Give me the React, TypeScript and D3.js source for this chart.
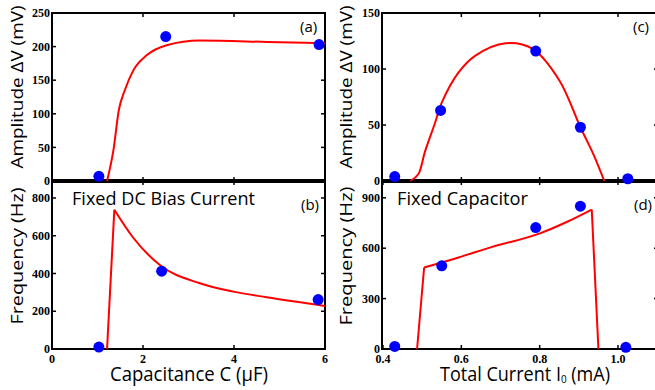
import React from 'react';
import * as d3 from 'd3';

// tick values
const capTicks = [0, 2, 4, 6];
const currTicks = [0.4, 0.6, 0.8, 1.0];
const ampATicks = [0, 50, 100, 150, 200, 250];
const freqBTicks = [0, 200, 400, 600, 800];
const ampCTicks = [0, 50, 100, 150];
const freqDTicks = [0, 300, 600, 900];

// measured points
const capA = [1.03, 2.5, 5.87];
const ampA = [7, 215, 203];
const capB = [1.03, 2.41, 5.85];
const freqB = [10, 412, 262];
const currC = [0.43, 0.547, 0.79, 0.904, 1.025];
const ampC = [4, 63, 116, 48, 2];
const currD = [0.43, 0.55, 0.79, 0.904, 1.02];
const freqD = [15, 495, 723, 850, 10];

// simulated curves
const simCapA = [1.21, 1.35, 1.47, 1.6, 1.79, 2.08, 2.52, 3.25, 4.72, 6.0];
const simAmpA = [0, 46, 106, 135, 165, 187, 202, 209, 207, 205];
const simCapB = [1.21, 1.37, 1.79, 2.37, 3.25, 3.98, 4.72, 6.0];
const simFreqB = [0, 738, 588, 445, 348, 304, 274, 228];
const simCurrC = [0.47, 0.49, 0.507, 0.533, 0.55, 0.593, 0.636, 0.713, 0.782, 0.85, 0.904, 0.937, 0.965];
const simAmpC = [0, 6, 26, 52, 70, 97, 112, 123, 118, 90, 48, 24, 0];
const simCurrD = [0.487, 0.505, 0.593, 0.679, 0.799, 0.869, 0.933, 0.95];
const simFreqD = [0, 485, 545, 608, 687, 756, 830, 0];

const W = 655;
const H = 390;
const tickFont = { fontFamily: 'Liberation Serif', fontWeight: 700, fontSize: 12 };
const sans = 'Open Sans';

const xL = d3.scaleLinear().domain([0, 6]).range([52, 325]);
const xR = d3.scaleLinear().domain([0.4, 1.0]).range([383, 618]);
const yA = d3.scaleLinear().domain([0, 250]).range([181, 13]);
const yB = d3.scaleLinear().domain([0, 890]).range([349, 181]);
const yC = d3.scaleLinear().domain([0, 150]).range([181, 13]);
const yD = d3.scaleLinear().domain([0, 1000]).range([349, 181]);

type Sc = d3.ScaleLinear<number, number>;

function path(x: Sc, y: Sc, xs: number[], ys: number[], curve: d3.CurveFactory) {
  const pts: [number, number][] = xs.map((v, i) => [v, ys[i]]);
  return d3
    .line<[number, number]>()
    .x((d) => x(d[0]))
    .y((d) => Math.min(y(d[1]), y(0)))
    .curve(curve)(pts) as string;
}

function Panel({ x, y, x0, x1, y0, y1, xTicks, yTicks, xFmt, xBottom }: any) {
  const t = 4;
  return (
    <g>
      <rect x={x0} y={y1} width={x1 - x0} height={y0 - y1} fill="none" stroke="#000" strokeWidth={2} />
      {yTicks.map((v: number) => (
        <g key={'y' + v}>
          <line x1={x0} x2={x0 + t} y1={y(v)} y2={y(v)} stroke="#000" strokeWidth={1.5} />
          <line x1={x1} x2={x1 - t} y1={y(v)} y2={y(v)} stroke="#000" strokeWidth={1.5} />
          <text x={x0 - 2} y={y(v)} dy="0.35em" textAnchor="end" {...tickFont}>
            {v}
          </text>
        </g>
      ))}
      {xTicks.map((v: number) => (
        <g key={'x' + v}>
          <line x1={x(v)} x2={x(v)} y1={y1} y2={y1 + t} stroke="#000" strokeWidth={1.5} />
          <line x1={x(v)} x2={x(v)} y1={y0} y2={y0 - t} stroke="#000" strokeWidth={1.5} />
          {xBottom && (
            <text x={x(v)} y={y0 + 14} textAnchor="middle" {...tickFont}>
              {xFmt(v)}
            </text>
          )}
        </g>
      ))}
    </g>
  );
}

function Dots({ x, y, xs, ys }: any) {
  return (
    <g>
      {xs.map((v: number, i: number) => (
        <circle key={i} cx={x(v)} cy={y(ys[i])} r={5.5} fill="#0000ff" />
      ))}
    </g>
  );
}

export default function App() {
  const fmtL = (v: number) => String(v);
  const fmtR = d3.format('.1f');
  const red = { fill: 'none', stroke: '#ff0000', strokeWidth: 2 };
  const nD = simCurrD.length;
  return (
    <svg width={W} height={H} style={{ position: 'absolute', left: 0, top: 0, background: '#fff' }}>
      {/* left column */}
      <Panel x={xL} y={yA} x0={52} x1={325} y0={181} y1={13} xTicks={[2, 4]} yTicks={ampATicks} />
      <Panel x={xL} y={yB} x0={52} x1={325} y0={349} y1={181} xTicks={capTicks} yTicks={freqBTicks} xFmt={fmtL} xBottom />
      <line x1={51} x2={326} y1={yA(0)} y2={yA(0)} stroke="#000" strokeWidth={4} />
      {/* right column */}
      <Panel x={xR} y={yC} x0={382} x1={658} y0={181} y1={13} xTicks={[0.6, 0.8, 1.0]} yTicks={ampCTicks} />
      <Panel x={xR} y={yD} x0={382} x1={658} y0={349} y1={181} xTicks={currTicks} yTicks={freqDTicks} xFmt={fmtR} xBottom />
      <line x1={381} x2={659} y1={yC(0)} y2={yC(0)} stroke="#000" strokeWidth={4} />

      {/* simulation curves */}
      <path d={path(xL, yA, simCapA, simAmpA, d3.curveMonotoneX)} {...red} />
      <path d={path(xL, yB, simCapB.slice(0, 2), simFreqB.slice(0, 2), d3.curveLinear)} {...red} />
      <path d={path(xL, yB, simCapB.slice(1), simFreqB.slice(1), d3.curveMonotoneX)} {...red} />
      <path d={path(xR, yC, simCurrC, simAmpC, d3.curveCatmullRom.alpha(0.5))} {...red} />
      <path d={path(xR, yD, simCurrD.slice(0, 2), simFreqD.slice(0, 2), d3.curveLinear)} {...red} />
      <path d={path(xR, yD, simCurrD.slice(1, nD - 1), simFreqD.slice(1, nD - 1), d3.curveMonotoneX)} {...red} />
      <path d={path(xR, yD, simCurrD.slice(nD - 2), simFreqD.slice(nD - 2), d3.curveLinear)} {...red} />

      {/* measurements */}
      <Dots x={xL} y={yA} xs={capA} ys={ampA} />
      <Dots x={xL} y={yB} xs={capB} ys={freqB} />
      <Dots x={xR} y={yC} xs={currC} ys={ampC} />
      <Dots x={xR} y={yD} xs={currD} ys={freqD} />

      {/* labels */}
      <g fontFamily={sans} fill="#000">
        <text transform="translate(23,87) rotate(-90)" textAnchor="middle" fontSize={17} textLength={163} lengthAdjust="spacingAndGlyphs">
          Amplitude ΔV (mV)
        </text>
        <text transform="translate(23,256) rotate(-90)" textAnchor="middle" fontSize={17} textLength={137} lengthAdjust="spacingAndGlyphs">
          Frequency (Hz)
        </text>
        <text transform="translate(352,87) rotate(-90)" textAnchor="middle" fontSize={17} textLength={163} lengthAdjust="spacingAndGlyphs">
          Amplitude ΔV (mV)
        </text>
        <text transform="translate(352,256) rotate(-90)" textAnchor="middle" fontSize={17} textLength={139} lengthAdjust="spacingAndGlyphs">
          Frequency (Hz)
        </text>
        <text x={110} y={381} fontSize={20} textLength={158} lengthAdjust="spacingAndGlyphs">
          Capacitance C (μF)
        </text>
        <text x={440} y={381} fontSize={20} textLength={170} lengthAdjust="spacingAndGlyphs">
          Total Current I<tspan fontSize={11} dy={2}>0</tspan>
          <tspan dy={-2}> (mA)</tspan>
        </text>
        <text x={72} y={205} fontSize={18} textLength={183} lengthAdjust="spacingAndGlyphs">
          Fixed DC Bias Current
        </text>
        <text x={397} y={205} fontSize={18} textLength={131} lengthAdjust="spacingAndGlyphs">
          Fixed Capacitor
        </text>
        <text x={300} y={32} fontSize={15}>(a)</text>
        <text x={301} y={210} fontSize={15}>(b)</text>
        <text x={633} y={32} fontSize={15}>(c)</text>
        <text x={634} y={210} fontSize={15}>(d)</text>
      </g>
    </svg>
  );
}
